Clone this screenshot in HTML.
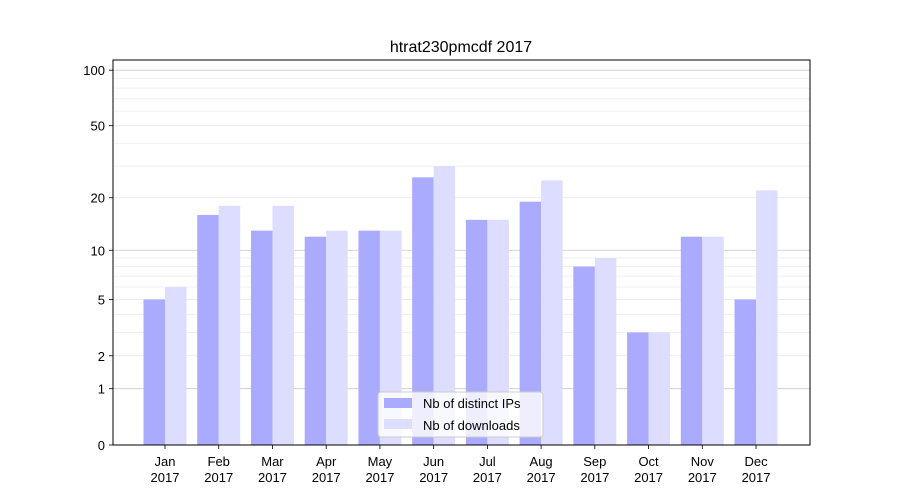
<!DOCTYPE html>
<html><head><meta charset="utf-8"><style>
body{margin:0;background:#fff;}
svg{display:block;font-family:"Liberation Sans","DejaVu Sans",sans-serif;}
</style></head><body>
<svg id="chart" width="900" height="500"></svg>
<script>
const months=["Jan","Feb","Mar","Apr","May","Jun","Jul","Aug","Sep","Oct","Nov","Dec"];
const ipsValues=[5,16,13,12,13,26,15,19,8,3,12,5];
const downloadValues=[6,18,18,13,13,30,15,25,9,3,12,22];
const tickValues=[0,1,2,5,10,20,50,100];
const minorValues=[3,4,6,7,8,9,30,40,60,70,80,90];
const NS="http://www.w3.org/2000/svg";
const svg=document.getElementById('chart');
const L=113,R=810,T=60,B=445;
function y(v){return B-187*Math.log10(1+v);}
function x(i){return 165+i*53.73;}
function mk(tag,attrs,parent){const e=document.createElementNS(NS,tag);for(const k in attrs)e.setAttribute(k,attrs[k]);(parent||svg).appendChild(e);return e;}
// minor grid
minorValues.forEach(v=>{const l=mk('line',{x1:L,x2:R,y1:y(v),y2:y(v),stroke:'#eeeeee','stroke-width':0.8});

});
tickValues.forEach(v=>{if(v===0)return;const major=(v===1||v===10||v===100);
const l=mk('line',{x1:L,x2:R,y1:y(v),y2:y(v),stroke:major?'#c8c8c8':'#e6e6e6','stroke-width':0.8});

});
// bars
months.forEach((m,i)=>{
const a=mk('rect',{x:x(i)-21.5,y:y(ipsValues[i]),width:21.5,height:B-y(ipsValues[i]),fill:'#aaaaff'});


const b=mk('rect',{x:x(i),y:y(downloadValues[i]),width:21.5,height:B-y(downloadValues[i]),fill:'#ddddff'});


mk('line',{x1:x(i),x2:x(i),y1:B,y2:B+4,stroke:'#000','stroke-width':0.8});
const t=mk('text',{x:x(i),y:B+21,'font-size':13,'text-anchor':'middle'});t.textContent=m;


const t2=mk('text',{x:x(i),y:B+37,'font-size':13,'text-anchor':'middle'});t2.textContent='2017';


});
// y ticks
tickValues.forEach(v=>{mk('line',{x1:L-4,x2:L,y1:y(v),y2:y(v),stroke:'#000','stroke-width':0.8});
const t=mk('text',{x:L-8,y:y(v)+5,'font-size':13,'text-anchor':'end'});t.textContent=v;

});
const fr=mk('rect',{x:L,y:T,width:R-L,height:B-T,fill:'none',stroke:'#000','stroke-width':1});


const title=mk('text',{x:461,y:52,'font-size':16,'text-anchor':'middle'});title.textContent='htrat230pmcdf 2017';


// legend
const g=mk('g',{});


mk('rect',{x:378,y:392,width:165,height:45,rx:3,fill:'#fff','fill-opacity':0.8,stroke:'#cccccc'},g);
mk('rect',{x:384,y:398,width:28,height:10,fill:'#aaaaff'},g);
mk('rect',{x:384,y:419,width:28,height:10,fill:'#ddddff'},g);
const l1=mk('text',{x:423,y:408,'font-size':13},g);l1.textContent='Nb of distinct IPs';


const l2=mk('text',{x:423,y:430,'font-size':13},g);l2.textContent='Nb of downloads';


</script>
</body></html>
